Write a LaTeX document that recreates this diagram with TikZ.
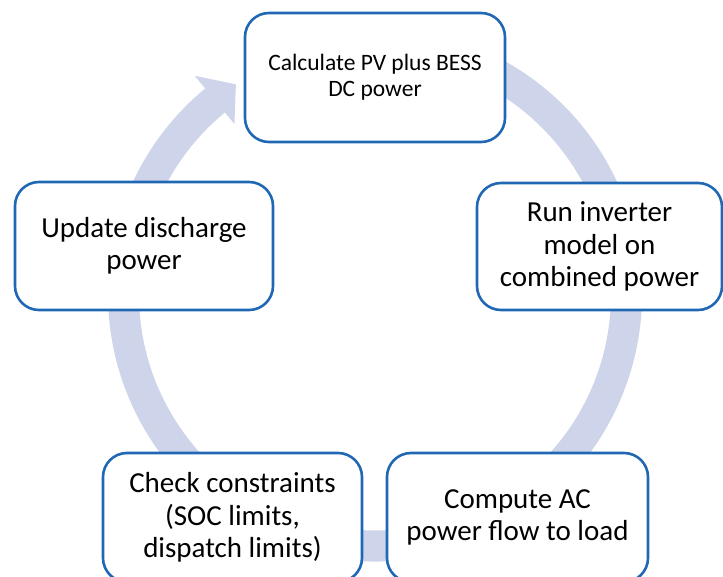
\documentclass[tikz,border=0pt]{standalone}
\usepackage{fontspec}
\setmainfont{Carlito}
\usepackage{tikz}
\usetikzlibrary{calc}
\definecolor{ringblue}{RGB}{206,213,234}
\definecolor{boxblue}{RGB}{32,104,180}

\begin{document}
\begin{tikzpicture}[x=1pt, y=1pt,
  cyclebox/.style={draw=boxblue, line width=2.6pt, fill=white, rounded corners=24pt,
    align=center, inner sep=0pt, font=\fontsize{29}{32.5}\selectfont},
  smalltext/.style={font=\fontsize{23.5}{26}\selectfont}]
\useasboundingbox (0,0) rectangle (723,576);
\clip (0,0) rectangle (723,576);
\coordinate (ctr) at (375,281.5);
\fill[ringblue] ($(ctr)+(115:267pt)$) arc[start angle=115, end angle=-230.5, radius=267pt]
  -- ($(ctr)+(129.5:283.5pt)$) -- ($(ctr)+(123.5:252pt)$) -- ($(ctr)+(129.5:221pt)$)
  -- ($(ctr)+(129.5:236pt)$) arc[start angle=-230.5, end angle=115, radius=236pt] -- cycle;
\node[cyclebox, smalltext, minimum width=260pt, minimum height=129pt] (calc) at (375,498.5)
  {Calculate PV plus BESS\\DC power};
\node[cyclebox, minimum width=245pt, minimum height=127pt] (inv) at (599.5,329.5)
  {Run inverter\\model on\\combined power};
\node[cyclebox, minimum width=261pt, minimum height=129pt] (flow) at (517.5,58.5)
  {Compute AC\\power flow to load};
\node[cyclebox, minimum width=259pt, minimum height=129pt] (check) at (232.5,58.5)
  {Check constraints\\(SOC limits,\\dispatch limits)};
\node[cyclebox, minimum width=258pt, minimum height=128pt] (upd) at (144,330)
  {Update discharge\\power};
\end{tikzpicture}
\end{document}
